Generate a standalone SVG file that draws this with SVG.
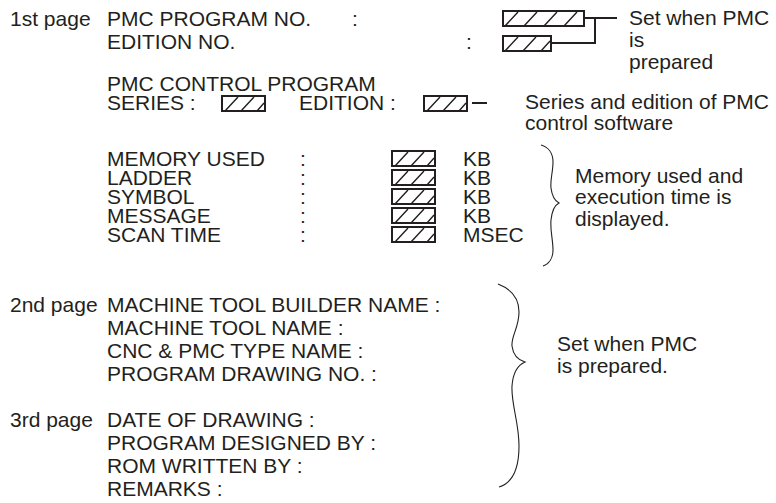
<svg xmlns="http://www.w3.org/2000/svg" width="776" height="503" viewBox="0 0 776 503">
<style>
text{font-family:"Liberation Sans",Arial,Helvetica,sans-serif;font-size:21px;fill:#231f20}
.box{fill:#fff;stroke:#231f20;stroke-width:2}
.hatch{stroke:#231f20;stroke-width:1.4;fill:none}
.conn{stroke:#231f20;stroke-width:2;fill:none}
.brace{stroke:#231f20;stroke-width:1.1;fill:none}
</style>
<defs>
<g id="sbox">
<rect class="box" x="0" y="0" width="43" height="15"/>
<path class="hatch" d="M3,15 L16,1 M19,15 L32,1 M35,15 L42,7"/>
</g>
</defs>
<rect width="776" height="503" fill="#fff"/>

<g id="page1-header">
<text x="10" y="26">1st page</text>
<text x="107" y="26">PMC PROGRAM NO.</text>
<text x="352" y="26">:</text>
<text x="107" y="49">EDITION NO.</text>
<text x="466" y="49">:</text>
</g>

<g id="program-no-box">
<rect class="box" x="503" y="11" width="81" height="15"/>
<path class="hatch" d="M505,26 L518,12 M524,26 L537,12 M544,26 L557,12 M564,26 L577,12"/>
</g>
<g id="edition-no-box">
<rect class="box" x="503" y="36" width="48" height="15"/>
<path class="hatch" d="M505,51 L518,37 M523,51 L536,37 M541,51 L550,41"/>
</g>
<g id="note-set-when">
<text x="629" y="25">Set when PMC</text>
<text x="629" y="47">is</text>
<text x="629" y="69">prepared</text>
</g>

<g id="control-program">
<text x="107" y="91">PMC CONTROL PROGRAM</text>
<text x="107" y="110">SERIES :</text>
<use href="#sbox" x="222" y="96"/>
<text x="299" y="110">EDITION :</text>
<use href="#sbox" x="424" y="96"/>
</g>
<g id="note-series">
<text x="525" y="109">Series and edition of PMC</text>
<text x="525" y="130">control software</text>
</g>

<g id="memory">
<text x="107" y="166">MEMORY USED</text>
<text x="107" y="185">LADDER</text>
<text x="107" y="204">SYMBOL</text>
<text x="107" y="223">MESSAGE</text>
<text x="107" y="242">SCAN TIME</text>
<text x="300" y="166">:</text>
<text x="300" y="185">:</text>
<text x="300" y="204">:</text>
<text x="300" y="223">:</text>
<text x="300" y="242">:</text>
<use href="#sbox" x="392" y="151"/>
<use href="#sbox" x="392" y="170"/>
<use href="#sbox" x="392" y="189"/>
<use href="#sbox" x="392" y="208"/>
<use href="#sbox" x="392" y="227"/>
<text x="463" y="166">KB</text>
<text x="463" y="185">KB</text>
<text x="463" y="204">KB</text>
<text x="463" y="223">KB</text>
<text x="463" y="242">MSEC</text>
</g>
<g id="note-memory">
<text x="575" y="183">Memory used and</text>
<text x="575" y="204">execution time is</text>
<text x="575" y="226">displayed.</text>
</g>

<g id="page2">
<text x="10" y="312">2nd page</text>
<text x="107" y="312">MACHINE TOOL BUILDER NAME :</text>
<text x="107" y="335">MACHINE TOOL NAME :</text>
<text x="107" y="358">CNC &amp; PMC TYPE NAME :</text>
<text x="107" y="381">PROGRAM DRAWING NO. :</text>
</g>
<g id="page3">
<text x="10" y="427">3rd page</text>
<text x="107" y="427">DATE OF DRAWING :</text>
<text x="107" y="450">PROGRAM DESIGNED BY :</text>
<text x="107" y="473">ROM WRITTEN BY :</text>
<text x="107" y="496">REMARKS :</text>
</g>
<g id="note-pages">
<text x="557" y="351">Set when PMC</text>
<text x="557" y="373">is prepared.</text>
</g>

<g id="connectors">
<path class="conn" d="M584,18 H617 M595,18 V43 H551"/>
<path class="conn" d="M472,103 H487"/>
<path class="brace" d="M541,145 C548,147 553,153 553,162 C553,172 550,180 551,188 C552,196 555,201 559,203 C555,205 552,211 551,220 C550,230 553,240 553,250 C553,258 549,264 543,266"/>
<path class="brace" d="M498,284 C511,289 519,298 519,312 C519,328 511,336 512,346 C513,354 518,360 525,362 C518,365 513,372 512,386 C511,404 519,422 519,446 C519,470 512,483 499,487"/>
</g>
</svg>
